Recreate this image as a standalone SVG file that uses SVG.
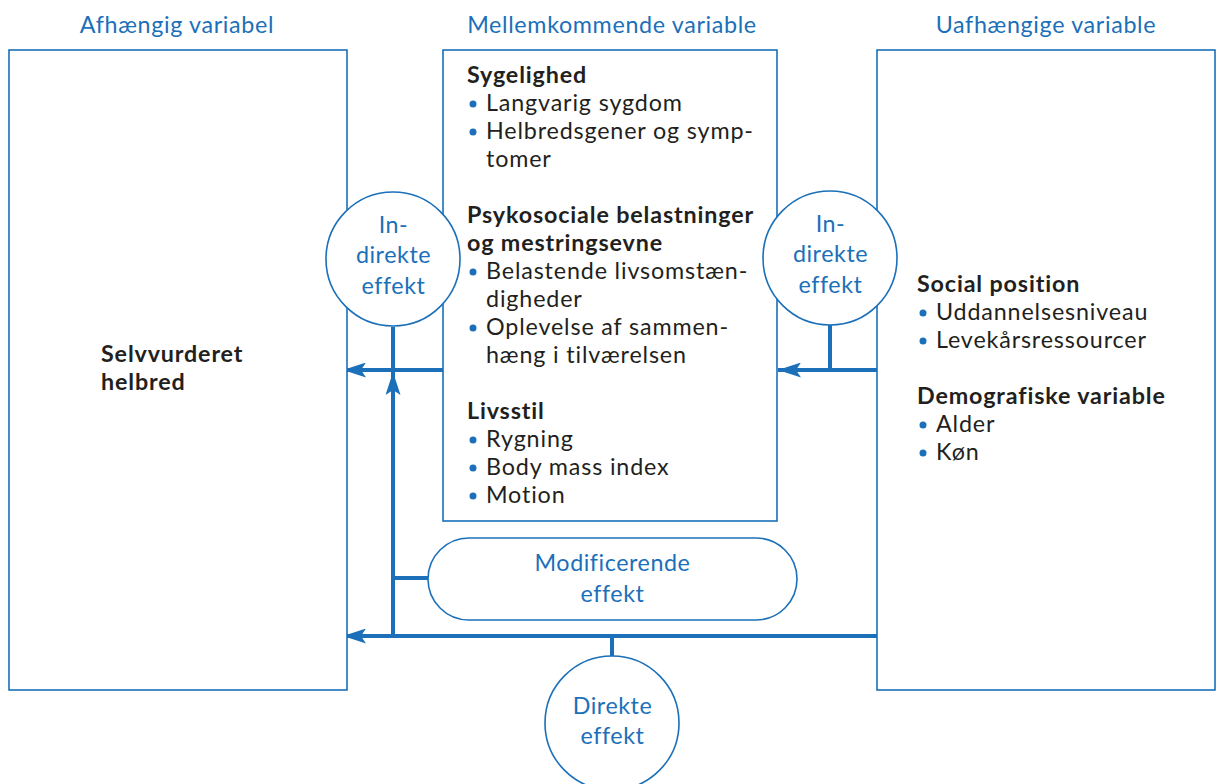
<svg xmlns="http://www.w3.org/2000/svg" width="1222" height="784" viewBox="0 0 1222 784">
  <style>
    .box { fill: #fff; stroke: #1b70b9; stroke-width: 1.6; }
    .hdr { font-family: Lato, "Open Sans", sans-serif; font-size: 23.3px; letter-spacing: 0.65px; fill: #1b70b9; text-anchor: middle; }
    .lbl { font-family: Lato, "Open Sans", sans-serif; font-size: 23.3px; letter-spacing: 0.55px; fill: #1b70b9; text-anchor: middle; }
    .t { font-family: Lato, "Open Sans", sans-serif; font-size: 23.3px; letter-spacing: 0.85px; fill: #231f20; }
    .b { font-weight: bold; letter-spacing: 0.85px; }
    .dot { fill: #1b70b9; }
    .wire { fill: none; stroke: #1b70b9; stroke-width: 4; }
  </style>
  <defs>
    <marker id="arr" viewBox="0 0 23 15" refX="23" refY="7.5" markerWidth="23" markerHeight="15" markerUnits="userSpaceOnUse" orient="auto">
      <path d="M0,0 L23,7.5 L0,15 L5,7.5 Z" fill="#1b70b9"/>
    </marker>
  </defs>
  <rect width="1222" height="784" fill="#fff"/>

  <!-- column headings -->
  <text class="hdr" x="177" y="33">Afhængig variabel</text>
  <text class="hdr" x="612" y="33">Mellemkommende variable</text>
  <text class="hdr" x="1046" y="33">Uafhængige variable</text>

  <!-- connectors -->
  <g id="connectors">
    <path class="wire" d="M443,370 H343" marker-end="url(#arr)"/>
    <path class="wire" d="M393,327 V370"/>
    <path class="wire" d="M393,636 V372" marker-end="url(#arr)"/>
    <path class="wire" d="M393,578 H428"/>
    <path class="wire" d="M877,370 H778" marker-end="url(#arr)"/>
    <path class="wire" d="M830,325 V370"/>
    <path class="wire" d="M877,636 H343" marker-end="url(#arr)"/>
    <path class="wire" d="M612,636 V656"/>
  </g>

  <!-- dependent variable -->
  <g id="dependent">
    <rect class="box" x="9" y="50" width="338" height="640"/>
    <text class="t b" x="101" y="362">Selvvurderet</text>
    <text class="t b" x="101" y="390">helbred</text>
  </g>

  <!-- intervening variables -->
  <g id="intervening">
    <rect class="box" x="443" y="50" width="334" height="471"/>
    <text class="t b" x="467" y="83">Sygelighed</text>
    <circle class="dot" cx="473" cy="104" r="3.5"/>
    <text class="t" x="486" y="111">Langvarig sygdom</text>
    <circle class="dot" cx="473" cy="132" r="3.5"/>
    <text class="t" x="486" y="139">Helbredsgener og symp-</text>
    <text class="t" x="486" y="167">tomer</text>
    <text class="t b" x="467" y="223">Psykosociale belastninger</text>
    <text class="t b" x="467" y="251">og mestringsevne</text>
    <circle class="dot" cx="473" cy="272" r="3.5"/>
    <text class="t" x="486" y="279">Belastende livsomstæn-</text>
    <text class="t" x="486" y="307">digheder</text>
    <circle class="dot" cx="473" cy="328" r="3.5"/>
    <text class="t" x="486" y="335">Oplevelse af sammen-</text>
    <text class="t" x="486" y="363">hæng i tilværelsen</text>
    <text class="t b" x="467" y="419">Livsstil</text>
    <circle class="dot" cx="473" cy="440" r="3.5"/>
    <text class="t" x="486" y="447">Rygning</text>
    <circle class="dot" cx="473" cy="468" r="3.5"/>
    <text class="t" x="486" y="475">Body mass index</text>
    <circle class="dot" cx="473" cy="496" r="3.5"/>
    <text class="t" x="486" y="503">Motion</text>
  </g>

  <!-- independent variables -->
  <g id="independent">
    <rect class="box" x="877" y="50" width="338" height="640"/>
    <text class="t b" x="917" y="292">Social position</text>
    <circle class="dot" cx="923" cy="313" r="3.5"/>
    <text class="t" x="936" y="320">Uddannelsesniveau</text>
    <circle class="dot" cx="923" cy="341" r="3.5"/>
    <text class="t" x="936" y="348">Levekårsressourcer</text>
    <text class="t b" x="917" y="404">Demografiske variable</text>
    <circle class="dot" cx="923" cy="425" r="3.5"/>
    <text class="t" x="936" y="432">Alder</text>
    <circle class="dot" cx="923" cy="453" r="3.5"/>
    <text class="t" x="936" y="460">Køn</text>
  </g>

  <!-- indirect effect, left -->
  <g id="indirect-left">
    <circle class="box" cx="393" cy="259" r="67"/>
    <text class="lbl" x="393.5" y="233">In-</text>
    <text class="lbl" x="393.5" y="263">direkte</text>
    <text class="lbl" x="393.5" y="294">effekt</text>
  </g>

  <!-- indirect effect, right -->
  <g id="indirect-right">
    <circle class="box" cx="830" cy="258" r="67"/>
    <text class="lbl" x="830.5" y="232">In-</text>
    <text class="lbl" x="830.5" y="262">direkte</text>
    <text class="lbl" x="830.5" y="293">effekt</text>
  </g>

  <!-- modifying effect -->
  <g id="modifying">
    <rect class="box" x="428" y="538" width="369" height="82" rx="41"/>
    <text class="lbl" x="612.5" y="571">Modificerende</text>
    <text class="lbl" x="612.5" y="602">effekt</text>
  </g>

  <!-- direct effect -->
  <g id="direct">
    <circle class="box" cx="612" cy="723" r="67"/>
    <text class="lbl" x="612.5" y="714">Direkte</text>
    <text class="lbl" x="612.5" y="744">effekt</text>
  </g>
</svg>
